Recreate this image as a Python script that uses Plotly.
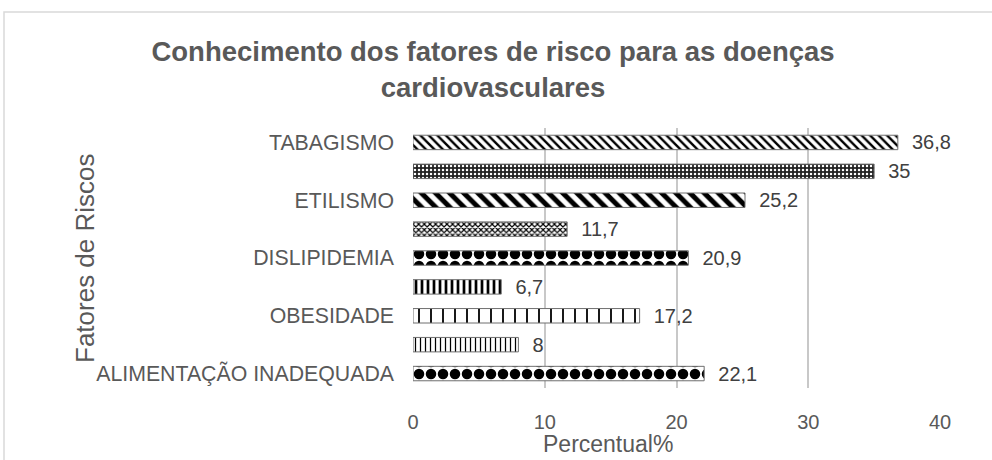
import plotly.graph_objects as go

# Data (bottom to top)
positions = [0, 1, 2, 3, 4, 5, 6, 7, 8]
values = [22.1, 8, 17.2, 6.7, 20.9, 11.7, 25.2, 35, 36.8]
tick_positions = [0, 2, 4, 6, 8]
tick_labels = ["ALIMENTAÇÃO INADEQUADA", "OBESIDADE", "DISLIPIDEMIA", "ETILISMO", "TABAGISMO"]
x_ticks = [0, 10, 20, 30, 40]

pattern_shapes = [".", "|", "|", "|", ".", "x", "\\", ".", "\\"]
pattern_sizes = [12, 5, 12, 6, 12, 4, 10, 4, 6]
pattern_solid = [0.6, 0.25, 0.15, 0.45, 0.6, 0.5, 0.5, 0.3, 0.4]
pattern_fg = ["black", "black", "black", "black", "black", "black", "black", "white", "black"]
pattern_bg = ["white", "white", "white", "white", "white", "white", "white", "#222222", "white"]

L, R, T, B = 413, 52, 128, 72
W, H = 992, 460
pw, ph = W - L - R, H - T - B

def px(x):
    return (x - L) / pw

def py(y):
    return (H - B - y) / ph

fig = go.Figure()
fig.add_trace(go.Bar(
    x=values, y=positions, orientation="h", width=0.5,
    marker=dict(
        color="white",
        line=dict(color="#6f6f6f", width=1),
        pattern=dict(shape=pattern_shapes, size=pattern_sizes, solidity=pattern_solid,
                     fgcolor=pattern_fg, bgcolor=pattern_bg, fillmode="replace"),
    ),
    text=values, texttemplate="  %{x}", textposition="outside", constraintext="none",
    textfont=dict(size=20, color="#404040", family="Liberation Sans"),
    cliponaxis=False, showlegend=False,
))

fig.update_layout(
    width=W, height=H, separators=",.",
    margin=dict(l=L, r=R, t=T, b=B),
    paper_bgcolor="white", plot_bgcolor="white",
    font=dict(family="Liberation Sans", color="#595959"),
    title=dict(text="<b>Conhecimento dos fatores de risco para as doenças<br>cardiovasculares</b>",
               x=0.497, xref="container", xanchor="center", y=1 - 61 / H, yanchor="middle",
               font=dict(size=27.5, color="#595959", family="Liberation Sans")),
    xaxis=dict(range=[0, 40], tickvals=x_ticks, showgrid=True, gridcolor="#c8c8c8", gridwidth=2,
               zeroline=False, showline=False, ticks="", ticklabelstandoff=20,
               tickfont=dict(size=20, color="#595959")),
    yaxis=dict(range=[-0.5, 8.5], tickvals=tick_positions, ticktext=tick_labels,
               showgrid=False, zeroline=False, showline=False, ticks="", ticklabelstandoff=18,
               tickfont=dict(size=21.3, color="#595959")),
)

fig.add_annotation(text="Fatores de Riscos", textangle=-90, xref="paper", yref="paper",
                   x=px(85), y=py(258), showarrow=False, xanchor="center", yanchor="middle",
                   font=dict(size=26, color="#595959"))
fig.add_annotation(text="Percentual%", xref="paper", yref="paper",
                   x=px(608), y=py(444), showarrow=False, xanchor="center", yanchor="middle",
                   font=dict(size=23, color="#595959"))

fig.add_shape(type="rect", xref="paper", yref="paper",
              x0=px(4), y0=py(470), x1=px(1000), y1=py(12),
              line=dict(color="#d9d9d9", width=1.5), fillcolor="rgba(0,0,0,0)", layer="below")

fig.write_html("out.html", config={"displayModeBar": False},
               post_script="document.body.style.margin='0';")
